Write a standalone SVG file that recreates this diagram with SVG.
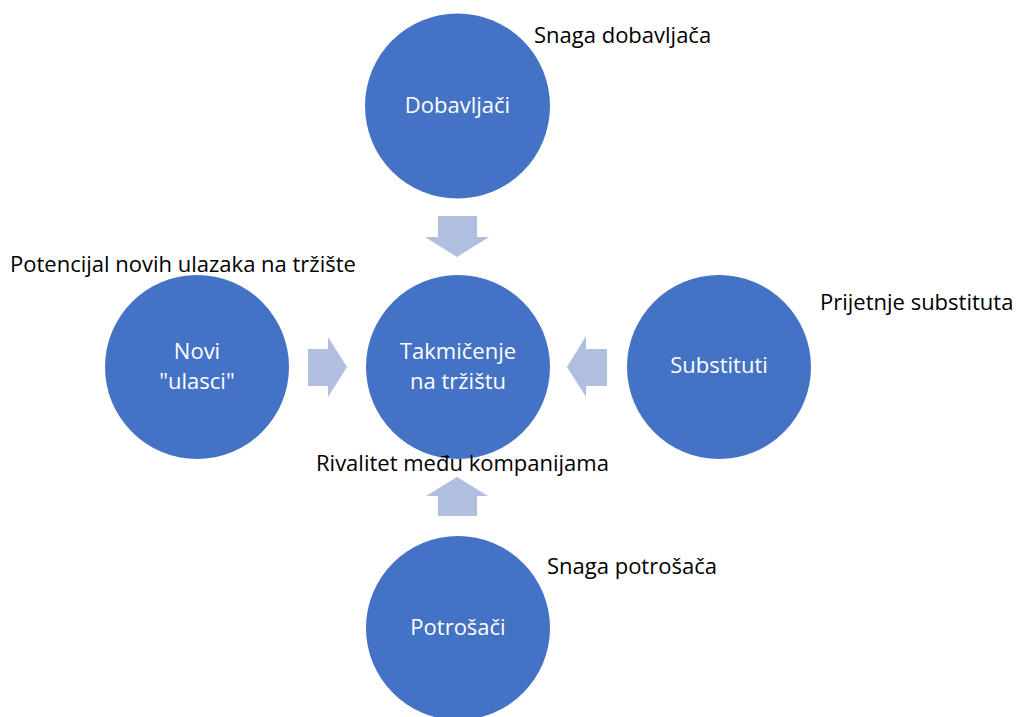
<svg xmlns="http://www.w3.org/2000/svg" width="1019" height="717" viewBox="0 0 1019 717">
<style>
.node{fill:#4472C4}
.lbl{font-family:"Open Sans","Liberation Sans",sans-serif;font-size:22px;fill:#FFFFFF;text-anchor:middle}
.cap{font-family:"Open Sans","Liberation Sans",sans-serif;font-size:22px;fill:#000000}
.arr{fill:#B0BEE0}
</style>
<rect width="1019" height="717" fill="#FFFFFF"/>
<g id="connectors">
<polygon class="arr" points="438,216 477,216 477,237 489,237 457,257 425,237 438,237"/>
<polygon class="arr" points="308,349 328,349 328,337 347,367 328,397 328,386 308,386"/>
<polygon class="arr" points="607,349 586,349 586,336 567,367 586,397 586,386 607,386"/>
<polygon class="arr" points="438,516 477,516 477,496 488,496 457,477 426,496 438,496"/>
</g>
<g id="dobavljaci">
<circle class="node" cx="457.5" cy="106" r="92.5"/>
<text class="lbl" x="457.5" y="113">Dobavljači</text>
</g>
<g id="novi">
<circle class="node" cx="197" cy="367" r="92"/>
<text class="lbl" x="197" y="359">Novi</text>
<text class="lbl" x="197" y="389">"ulasci"</text>
</g>
<g id="takmicenje">
<circle class="node" cx="458" cy="367" r="92"/>
<text class="lbl" x="458" y="359">Takmičenje</text>
<text class="lbl" x="458" y="389">na tržištu</text>
</g>
<g id="substituti">
<circle class="node" cx="719" cy="367" r="92"/>
<text class="lbl" x="719" y="373">Substituti</text>
</g>
<g id="potrosaci">
<circle class="node" cx="458" cy="628" r="92"/>
<text class="lbl" x="458" y="635">Potrošači</text>
</g>
<g id="captions">
<text class="cap" x="534" y="43">Snaga dobavljača</text>
<text class="cap" x="10" y="272">Potencijal novih ulazaka na tržište</text>
<text class="cap" x="820" y="310">Prijetnje substituta</text>
<text class="cap" x="316" y="471">Rivalitet među kompanijama</text>
<text class="cap" x="547" y="574">Snaga potrošača</text>
</g>
</svg>
